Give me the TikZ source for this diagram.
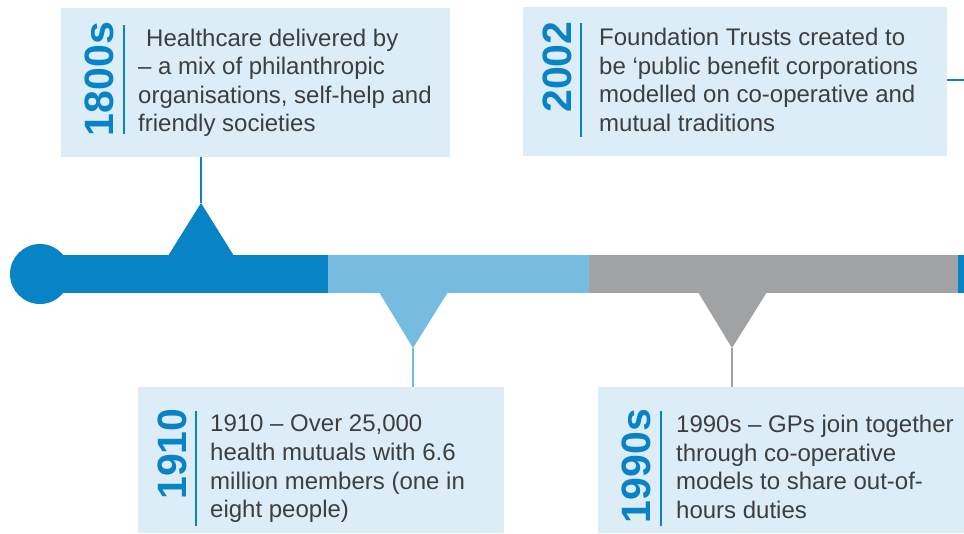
\documentclass[tikz,border=0pt]{standalone}
\usepackage{fontspec}
\setmainfont{Liberation Sans}
\usepackage{tikz}
\usetikzlibrary{positioning}

\definecolor{tlblue}{RGB}{8,131,198}
\definecolor{tllight}{RGB}{118,187,224}
\definecolor{tlgrey}{RGB}{161,162,164}
\definecolor{boxfill}{RGB}{220,237,248}
\definecolor{txtgrey}{RGB}{62,62,62}

\begin{document}
\begin{tikzpicture}[x=1pt, y=-1pt,
  evbox/.style={fill=boxfill, inner sep=0, anchor=north west},
  yearlbl/.style={rotate=90, inner sep=0, text=tlblue, font=\fontsize{41}{41}\selectfont\bfseries},
  desc/.style={anchor=north west, align=left, inner sep=0, text=txtgrey, font=\fontsize{24}{28.6}\selectfont},
  yearbar/.style={tlblue, line width=2.5pt},
  link/.style={line width=2.5pt}]
\useasboundingbox (0,0) rectangle (964,533);

% Event boxes
\node[evbox, minimum width=389pt, minimum height=149pt] (ev1800) at (61,8) {};
\node[evbox, minimum width=424pt, minimum height=149pt] (ev2002) at (523,7) {};
\node[evbox, minimum width=366pt, minimum height=146pt] (ev1910) at (138,387) {};
\node[evbox, minimum width=366pt, minimum height=146pt] (ev1990) at (598,387) {};

% Years
\node[yearlbl] (yr1800) at (99,79) {1800s};
\node[yearlbl] (yr2002) at (557,67) {2002};
\node[yearlbl] (yr1910) at (172,454) {1910};
\node[yearlbl] (yr1990) at (636,466) {1990s};
\draw[yearbar] (124,25) -- (124,134);
\draw[yearbar] (581,23) -- (581,137);
\draw[yearbar] (196,411) -- (196,526);
\draw[yearbar] (661,411) -- (661,526);

% Texts
\node[desc] (tx1800) at (138,28.5) {\hspace{8pt}Healthcare delivered by\\– a mix of philanthropic\\organisations, self-help and\\friendly societies};
\node[desc] (tx2002) at (599,28) {Foundation Trusts created to\\be ‘public benefit corporations\\modelled on co-operative and\\mutual traditions};
\node[desc] (tx1910) at (210,415) {1910 – Over 25,000\\health mutuals with 6.6\\million members (one in\\eight people)};
\node[desc] (tx1990) at (676,415) {1990s – GPs join together\\through co-operative\\models to share out-of-\\hours duties};

% Timeline bar
\fill[tlblue] (40,255) rectangle (328,293);
\fill[tllight] (328,255) rectangle (589,293);
\fill[tlgrey] (589,255) rectangle (958,293);
\fill[tlblue] (958,255) rectangle (964,293);
\fill[tlblue] (40,274) circle (30pt);

% Pointers
\fill[tlblue] (168,256) -- (201,203) -- (234,256) -- cycle;
\coordinate (p1800) at (201,203);
\fill[tllight] (379,292) -- (413,348) -- (448,292) -- cycle;
\coordinate (p1910) at (413,348);
\fill[tlgrey] (698,292) -- (732,348) -- (767,292) -- cycle;
\coordinate (p1990) at (732,348);
\coordinate (pend) at (964,80);

% Connectors
\draw[link, tlblue] (p1800) -- (p1800 |- ev1800.south);
\draw[link, tllight] (p1910) -- (p1910 |- ev1910.north);
\draw[link, tlgrey] (p1990) -- (p1990 |- ev1990.north);
\draw[link, tlblue] (ev2002.east |- pend) -- (pend);
\end{tikzpicture}
\end{document}
